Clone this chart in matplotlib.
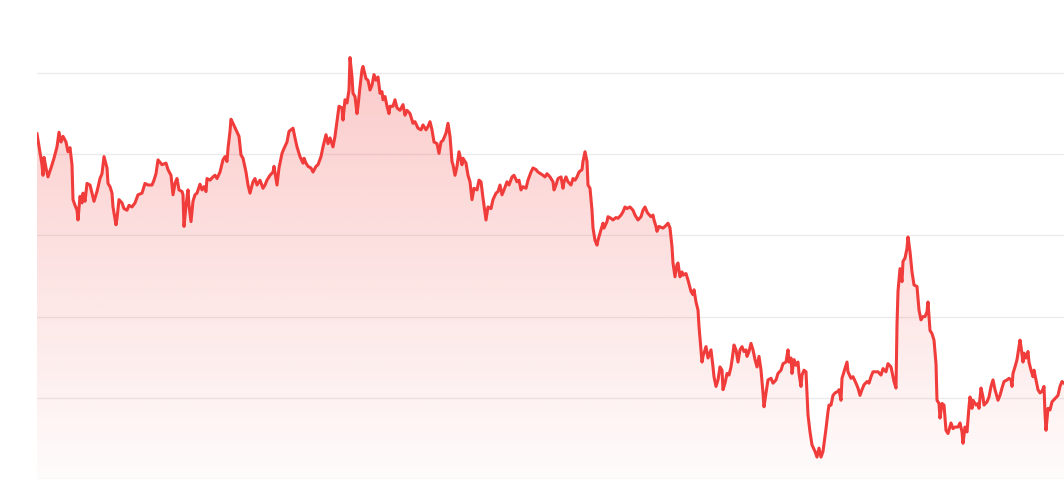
import numpy as np
import matplotlib
matplotlib.use("Agg")
import matplotlib.pyplot as plt

# trading day index and price level
days = [0, 5, 6, 7, 9, 11, 14, 17, 20, 22, 24, 26, 29, 31, 33, 35, 36, 38, 40, 41,
        43, 45, 46, 48, 50, 53, 55, 57, 60, 63, 65, 67, 70, 71, 73, 75, 76, 79, 80, 82,
        85, 87, 90, 92, 95, 98, 101, 105, 108, 111, 115, 117, 119, 121, 125, 129, 131, 134, 136, 138,
        140, 142, 145, 146, 147, 149, 151, 152, 154, 156, 158, 160, 163, 165, 167, 169, 170, 173, 176, 178,
        180, 183, 186, 188, 190, 191, 193, 194, 196, 199, 202, 204, 206, 209, 211, 213, 216, 218, 220, 223,
        226, 228, 230, 233, 236, 237, 240, 242, 245, 247, 250, 252, 256, 258, 260, 263, 266, 267, 269, 271,
        274, 276, 279, 281, 284, 286, 289, 291, 293, 296, 298, 300, 302, 305, 306, 308, 310, 312, 313, 315,
        316, 318, 320, 321, 323, 325, 326, 329, 331, 333, 335, 337, 339, 341, 343, 345, 346, 348, 350, 352,
        353, 356, 358, 360, 363, 366, 368, 370, 373, 376, 378, 381, 384, 386, 389, 391, 393, 395, 397, 400,
        402, 404, 406, 409, 411, 413, 415, 416, 418, 420, 422, 425, 426, 429, 431, 433, 435, 437, 440, 442,
        444, 446, 449, 451, 454, 456, 459, 461, 463, 465, 467, 470, 472, 475, 477, 480, 482, 484, 486, 489,
        491, 494, 496, 499, 501, 506, 508, 510, 513, 516, 517, 519, 521, 524, 526, 527, 529, 531, 534, 536,
        538, 540, 542, 545, 546, 548, 550, 551, 553, 555, 556, 558, 560, 561, 564, 566, 567, 570, 571, 574,
        576, 579, 581, 584, 586, 588, 590, 593, 596, 598, 601, 604, 606, 608, 610, 611, 614, 616, 617, 619,
        620, 622, 626, 628, 631, 633, 635, 636, 638, 640, 641, 643, 645, 646, 649, 651, 654, 656, 657, 659,
        661, 662, 664, 665, 666, 669, 671, 674, 676, 677, 679, 681, 683, 685, 686, 688, 690, 692, 694, 696,
        697, 699, 701, 703, 705, 707, 709, 710, 712, 714, 716, 718, 720, 722, 724, 726, 727, 729, 731, 734,
        736, 739, 741, 744, 746, 749, 751, 752, 754, 755, 757, 759, 761, 762, 764, 765, 767, 769, 771, 773,
        775, 778, 780, 782, 784, 786, 789, 791, 792, 794, 796, 798, 801, 802, 804, 805, 807, 810, 811, 814,
        816, 819, 821, 823, 825, 827, 830, 832, 834, 836, 839, 841, 844, 846, 849, 851, 854, 855, 857, 859,
        860, 861, 863, 865, 866, 868, 870, 871, 873, 875, 877, 880, 882, 884, 886, 888, 890, 891, 893, 895,
        897, 899, 900, 902, 903, 905, 907, 909, 911, 914, 916, 918, 921, 923, 925, 926, 928, 930, 932, 933,
        935, 936, 939, 941, 942, 944, 946, 947, 950, 952, 954, 956, 958, 961, 963, 965, 967, 970, 972, 974,
        975, 976, 978, 980, 981, 983, 984, 986, 987, 989, 991, 992, 994, 996, 997, 999, 1001, 1003, 1005, 1007,
        1008, 1009, 1011, 1013, 1015, 1018, 1021, 1023, 1025, 1027]

price = [42.5, 38.7, 37.4, 39.6, 38.3, 37.2, 38.3, 39.5, 40.9, 42.7, 41.5, 42.2, 41.5, 40.3, 40.8, 38.7, 34.4, 33.7, 33.1, 31.9,
         34.8, 34.0, 35.2, 34.2, 36.4, 36.2, 35.2, 34.2, 35.4, 37.0, 37.6, 39.7, 38.3, 36.4, 36.0, 35.2, 33.5, 31.3, 32.1, 34.4,
         34.0, 33.3, 33.1, 33.7, 33.5, 34.0, 35.0, 35.2, 36.4, 36.2, 36.2, 36.8, 37.6, 39.3, 38.7, 38.9, 38.1, 37.4, 35.0, 36.4,
         37.0, 35.6, 35.4, 35.0, 31.1, 33.7, 35.6, 33.7, 31.7, 34.2, 35.0, 35.2, 36.3, 35.6, 36.0, 35.4, 37.0, 36.8, 37.2, 37.4,
         37.0, 37.8, 39.3, 39.7, 39.1, 40.7, 42.8, 44.3, 43.8, 43.0, 42.2, 39.9, 39.5, 37.8, 36.2, 35.2, 36.6, 37.0, 36.2, 36.8,
         35.8, 36.2, 36.8, 37.4, 37.8, 38.5, 36.2, 38.3, 40.1, 40.7, 41.5, 42.8, 43.2, 42.0, 40.9, 39.7, 38.9, 39.5, 38.9, 38.5,
         38.3, 37.8, 38.5, 38.7, 39.7, 40.9, 42.4, 41.3, 42.0, 40.9, 42.2, 44.0, 45.9, 45.7, 44.2, 46.7, 46.3, 47.9, 51.9, 49.5,
         47.5, 47.1, 45.0, 45.9, 48.3, 50.4, 50.8, 49.3, 49.1, 47.9, 48.5, 49.8, 49.1, 49.5, 47.5, 47.7, 46.7, 47.1, 45.9, 45.0,
         45.9, 45.9, 46.7, 45.7, 45.4, 46.1, 44.8, 45.4, 45.0, 43.8, 44.0, 43.2, 43.0, 43.6, 43.0, 43.4, 44.0, 43.0, 41.5, 41.3,
         40.1, 41.5, 41.7, 42.6, 43.8, 42.2, 39.1, 38.7, 37.4, 38.5, 40.3, 38.7, 39.5, 38.9, 37.4, 36.6, 34.4, 35.8, 35.6, 36.8,
         36.6, 34.6, 31.9, 33.5, 33.3, 34.4, 35.2, 35.4, 36.2, 35.0, 35.6, 36.6, 36.2, 37.2, 37.4, 36.6, 36.8, 35.6, 36.0, 35.8,
         36.8, 37.8, 38.3, 38.1, 37.8, 37.4, 37.2, 37.6, 37.2, 36.6, 35.6, 36.2, 37.0, 37.2, 35.8, 36.6, 37.2, 36.6, 36.2, 37.0,
         36.8, 37.2, 37.8, 38.1, 39.1, 40.3, 39.1, 36.2, 35.8, 33.1, 30.9, 29.4, 28.8, 29.4, 30.7, 31.5, 30.9, 31.7, 32.3, 32.1,
         31.9, 32.2, 32.1, 32.5, 32.9, 33.5, 33.3, 33.5, 33.1, 32.5, 31.9, 32.3, 33.1, 33.5, 32.9, 32.7, 32.3, 32.5, 31.9, 31.1,
         30.5, 31.1, 30.9, 31.1, 31.5, 30.9, 28.6, 26.6, 24.9, 26.4, 26.6, 24.9, 25.5, 25.1, 25.3, 24.5, 23.1, 22.7, 23.3, 21.8,
         20.8, 18.8, 15.9, 14.4, 15.1, 16.3, 14.9, 15.9, 13.8, 12.6, 11.4, 12.2, 13.8, 13.4, 11.0, 11.8, 13.0, 12.8, 13.8, 15.5,
         16.5, 15.9, 14.4, 15.9, 16.3, 15.7, 15.9, 15.1, 15.7, 16.7, 15.9, 14.7, 13.8, 15.1, 13.4, 10.6, 8.9, 10.6, 12.2, 12.4,
         11.8, 12.2, 13.0, 13.4, 14.2, 14.4, 15.9, 14.4, 14.9, 13.0, 14.7, 14.0, 14.4, 13.0, 11.4, 12.8, 13.4, 13.2, 7.9, 5.8,
         4.2, 3.4, 2.7, 3.8, 2.7, 3.4, 6.2, 8.3, 9.1, 9.1, 10.3, 10.6, 10.8, 11.0, 9.7, 12.4, 13.2, 14.4, 13.2, 12.4,
         12.6, 11.8, 11.2, 10.3, 11.0, 11.6, 12.0, 11.8, 12.6, 13.2, 13.2, 13.2, 12.8, 13.6, 13.2, 14.2, 13.8, 13.2, 12.0, 11.2,
         19.0, 23.1, 25.9, 24.3, 26.8, 27.2, 28.4, 29.8, 28.0, 25.5, 23.9, 23.7, 20.8, 19.6, 20.0, 20.0, 20.6, 21.8, 18.3, 17.9,
         17.1, 14.2, 9.7, 9.3, 7.5, 9.3, 9.1, 6.0, 5.6, 6.9, 6.2, 6.4, 6.4, 6.9, 5.8, 4.4, 6.4, 5.8, 8.9, 10.1,
         8.7, 9.7, 9.1, 9.3, 8.7, 11.2, 10.1, 9.1, 9.5, 10.1, 11.4, 12.2, 11.0, 9.7, 10.3, 11.2, 12.0, 12.2, 12.4, 12.2,
         11.4, 13.0, 13.8, 14.7, 15.5, 17.1, 16.3, 14.4, 15.5, 14.9, 15.7, 14.4, 13.4, 12.6, 13.4, 12.2, 11.0, 10.6, 10.8, 11.4,
         8.1, 6.0, 8.7, 8.5, 9.5, 9.9, 10.3, 11.4, 12.0, 11.8]

grid_levels = [0, 10, 20, 30, 40, 50]

LINE_COLOR = '#f03c3a'

x = np.array(days, dtype=float)
y = np.array(price)

fig = plt.figure(figsize=(10.64, 4.97), dpi=100)
ax = fig.add_axes([37 / 1064, 18 / 497, 1 - 37 / 1064, 439 / 497])
ax.set_xlim(0, x[-1])
ymax = 54.06
ax.set_ylim(0, ymax)

# gradient fill under the line
grad = np.zeros((256, 1, 4))
grad[:, 0, 0] = 240 / 255
grad[:, 0, 1] = 60 / 255
grad[:, 0, 2] = 58 / 255
grad[:, 0, 3] = np.linspace(0.02, 0.28, 256)
im = ax.imshow(grad, extent=[0, x[-1], 0, ymax], origin='lower', aspect='auto', zorder=1)
poly = ax.fill_between(x, y, 0, color='none', lw=0)
im.set_clip_path(poly.get_paths()[0], transform=ax.transData)

ax.plot(x, y, color=LINE_COLOR, lw=2.2, solid_joinstyle='round', zorder=3)

ax.set_yticks(grid_levels)
ax.grid(axis='y', color='#ebebeb', lw=1.0, zorder=0)
ax.set_axisbelow(True)
ax.tick_params(left=False, bottom=False, labelleft=False, labelbottom=False)
ax.set_xticks([])
for s in ax.spines.values():
    s.set_visible(False)

fig.savefig('out.png', dpi=100)
